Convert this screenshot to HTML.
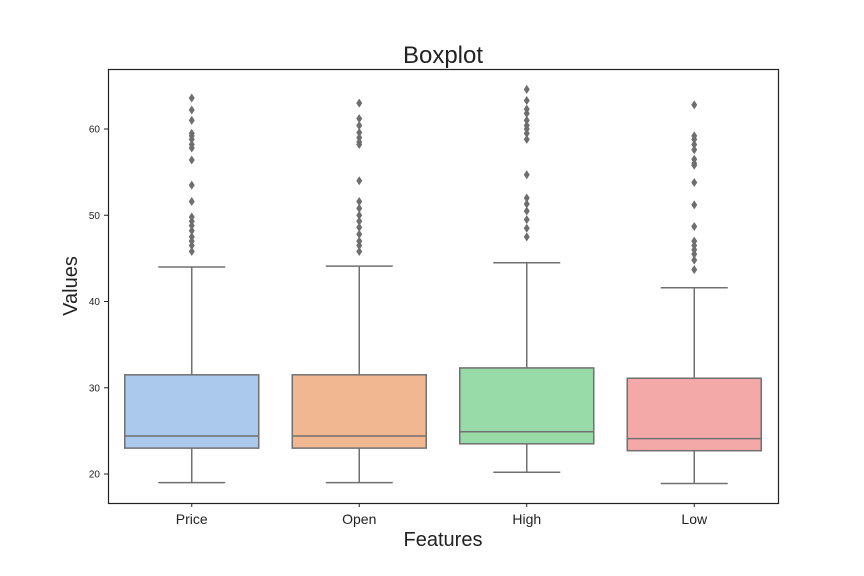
<!DOCTYPE html>
<html><head><meta charset="utf-8"><style>body{margin:0;background:#fff}svg{display:block;font-family:"Liberation Sans",sans-serif}</style></head>
<body>
<svg id="c" width="864" height="576">
<rect x="0" y="0" width="864" height="576" fill="#fff"/>
<text x="443" y="63" font-size="24" text-anchor="middle" fill="#222">Boxplot</text>
<text x="443" y="546" font-size="20" text-anchor="middle" fill="#222">Features</text>
<text transform="translate(77,286) rotate(-90)" font-size="20" text-anchor="middle" fill="#222">Values</text>
<g id="plot"></g>
<rect x="108.5" y="69.5" width="670" height="434" fill="none" stroke="#222" stroke-width="1.2"/>
</svg>
<script>
const categories=["Price","Open","High","Low"];
const whiskerLow=[19,19,20.2,18.9];
const q1=[23,23,23.5,22.7];
const medians=[24.4,24.4,24.9,24.1];
const q3=[31.5,31.5,32.3,31.1];
const whiskerHigh=[44,44.1,44.5,41.6];
const outliers=[
[63.6,62.2,61,59.5,59.2,58.8,58.2,57.8,56.4,53.5,51.6,49.8,49.3,48.8,48.2,47.5,47,46.5,45.8],
[63,61.2,60.4,59.6,59,58.5,58.2,54,51.6,50.8,50,49.3,48.6,47.8,47,46.5,45.8],
[64.6,63.3,62.3,61.8,61,60.4,60,59.5,58.8,54.7,52,51.3,50.5,49.5,48.5,47.5],
[62.8,59.2,58.8,58.2,57.6,56.5,56,55.8,53.8,51.2,48.7,47,46.5,46,45.5,44.8,43.7]];
const yTicks=[20,30,40,50,60];
const colors=["#abc9ed","#f1b791","#98dba8","#f2a9a7"];
const NS="http://www.w3.org/2000/svg";
const g=document.getElementById('plot');
const y=v=>474-(v-20)*8.625;
const x=i=>108+670*(i+0.5)/categories.length;
const bw=134;
function mk(t,a,p){const e=document.createElementNS(NS,t);for(const k in a)e.setAttribute(k,a[k]);(p||g).appendChild(e);return e;}
yTicks.forEach(t=>{
 const l=mk('line',{x1:104,x2:108,y1:y(t),y2:y(t),stroke:'#222'});
 
 
 const tx=mk('text',{x:100,y:y(t)+3.5,'font-size':10,'text-anchor':'end',fill:'#222'});tx.textContent=t;
 
 
});
const st='#707070';
categories.forEach((c,i)=>{
 const cx=x(i);
 const grp=mk('g',{});
 
 
 mk('line',{x1:cx,x2:cx,y1:y(q3[i]),y2:y(whiskerHigh[i]),stroke:st,'stroke-width':1.5},grp);
 mk('line',{x1:cx,x2:cx,y1:y(q1[i]),y2:y(whiskerLow[i]),stroke:st,'stroke-width':1.5},grp);
 mk('line',{x1:cx-bw/4,x2:cx+bw/4,y1:y(whiskerHigh[i]),y2:y(whiskerHigh[i]),stroke:st,'stroke-width':1.5},grp);
 mk('line',{x1:cx-bw/4,x2:cx+bw/4,y1:y(whiskerLow[i]),y2:y(whiskerLow[i]),stroke:st,'stroke-width':1.5},grp);
 mk('rect',{x:cx-bw/2,y:y(q3[i]),width:bw,height:y(q1[i])-y(q3[i]),fill:colors[i],stroke:st,'stroke-width':1.5},grp);
 mk('line',{x1:cx-bw/2,x2:cx+bw/2,y1:y(medians[i]),y2:y(medians[i]),stroke:st,'stroke-width':1.5},grp);
 outliers[i].forEach(v=>{
  const p=mk('path',{d:`M${cx} ${y(v)-4.5}L${cx+3} ${y(v)}L${cx} ${y(v)+4.5}L${cx-3} ${y(v)}Z`,fill:'#6e6e6e'},grp);
  
  
 });
 mk('line',{x1:cx,x2:cx,y1:503,y2:507,stroke:'#222'});
 const tx=mk('text',{x:cx,y:524,'font-size':14,'text-anchor':'middle',fill:'#222'});tx.textContent=c;
 
 
});
</script>
</body></html>
